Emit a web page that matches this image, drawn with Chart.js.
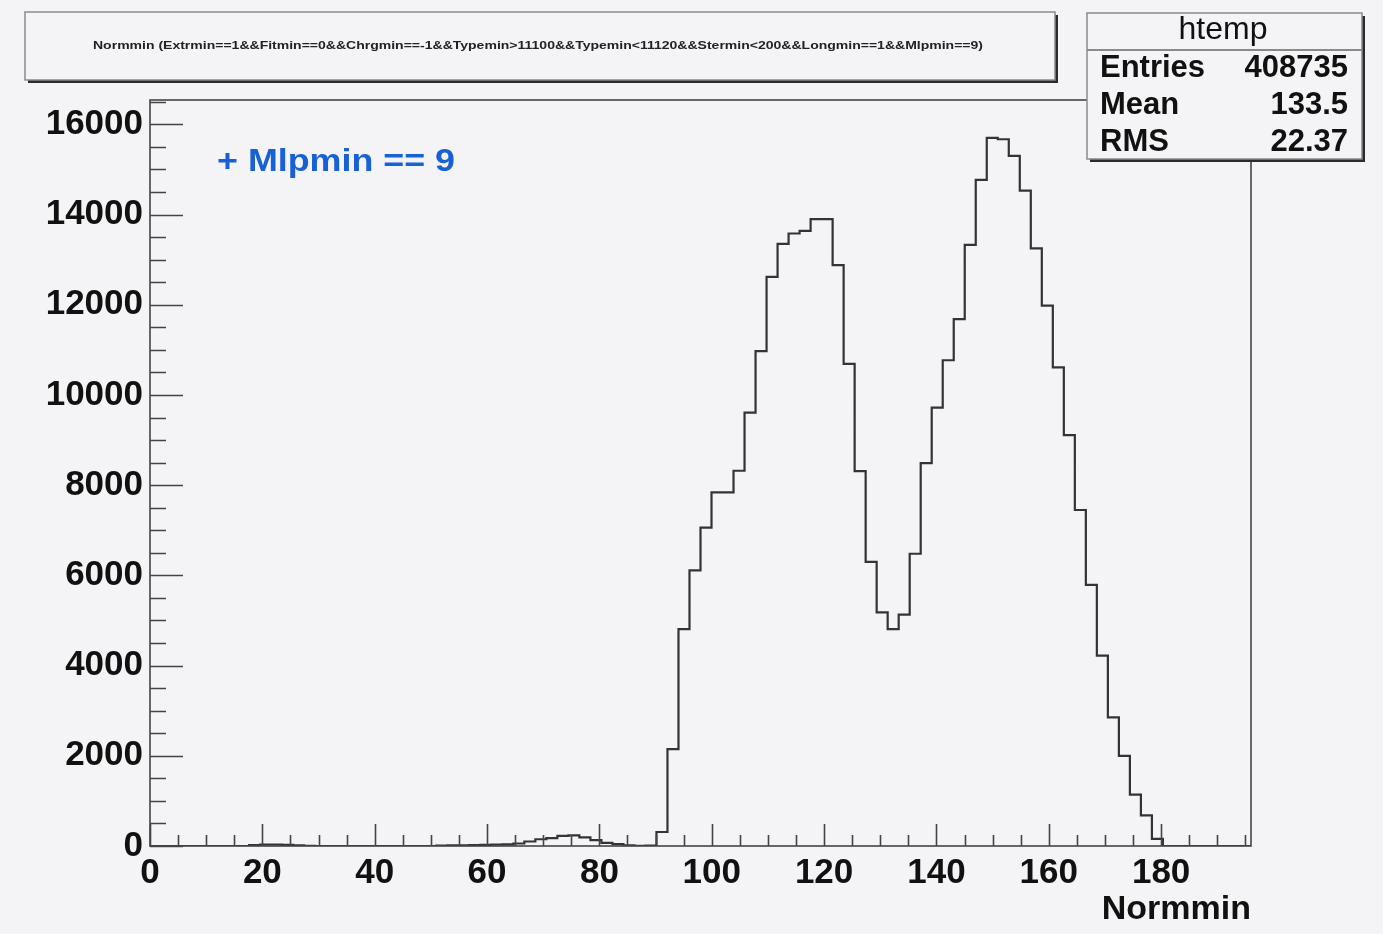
<!DOCTYPE html>
<html>
<head>
<meta charset="utf-8">
<script src="https://cdn.jsdelivr.net/npm/chart.js@4.4.1/dist/chart.umd.min.js"></script>
<style>
  html, body { margin: 0; padding: 0; background: #f4f4f6; }
  canvas { display: block; }
</style>
</head>
<body>
<canvas id="histo" width="1383" height="934"></canvas>
<script>
// histogram htemp : 100 bins from 0 to 196
const xMin = 0
const binWidth = 1.96
const counts = [
  0, 0, 0, 0, 0, 0, 0, 0, 0, 20,
  30, 30, 25, 15, 5, 0, 0, 0, 0, 0,
  0, 0, 0, 0, 0, 0, 10, 15, 15, 20,
  25, 30, 35, 55, 100, 150, 175, 225, 235, 190,
  130, 70, 40, 15, 5, 10, 310, 2150, 4810, 6110,
  7060, 7840, 7840, 8320, 9610, 10970, 12620, 13350, 13580, 13640,
  13900, 13900, 12880, 10690, 8310, 6300, 5180, 4810, 5130, 6480,
  8490, 9720, 10770, 11680, 13330, 14770, 15700, 15670, 15300, 14530,
  13250, 11980, 10610, 9110, 7450, 5790, 4220, 2850, 2000, 1140,
  680, 160, 0, 0, 0, 0, 0, 0, 0, 0
]
const xTicks = [0, 20, 40, 60, 80, 100, 120, 140, 160, 180]
const yTicks = [0, 2000, 4000, 6000, 8000, 10000, 12000, 14000, 16000]
const xMax = 196
const yMax = 16540

const titleText = 'Normmin (Extrmin==1&&Fitmin==0&&Chrgmin==-1&&Typemin>11100&&Typemin<11120&&Stermin<200&&Longmin==1&&Mlpmin==9)'
const statsName = 'htemp'
const statsLabels = ['Entries', 'Mean', 'RMS']
const statsValues = ['408735', '133.5', '22.37']
const noteText = '+ Mlpmin == 9'

// points du contour (marches) : bord gauche de chaque bin
const points = counts.map((c, i) => ({x: xMin + i * binWidth, y: c}))
points.push({x: xMin + counts.length * binWidth, y: counts[counts.length - 1]})

const FONT = '"Liberation Sans", Arial, sans-serif'

function shadowBox(ctx, x, y, w, h) {
  ctx.fillStyle = '#2b2b2b'
  ctx.fillRect(x + 3, y + 3, w, h)
  ctx.fillStyle = '#f4f4f6'
  ctx.fillRect(x, y, w, h)
  ctx.strokeStyle = '#8a8a8a'
  ctx.lineWidth = 1.5
  ctx.strokeRect(x, y, w, h)
}

function stretchText(ctx, text, x, y, width, font, color, align) {
  ctx.save()
  ctx.font = font
  ctx.fillStyle = color
  ctx.textBaseline = 'middle'
  ctx.textAlign = 'left'
  const w = ctx.measureText(text).width
  const sx = width / w
  let left = x
  if (align === 'center') left = x - width / 2
  ctx.translate(left, y)
  ctx.scale(sx, 1)
  ctx.fillText(text, 0, 0)
  ctx.restore()
}

const rootPlugin = {
  id: 'rootStyle',
  beforeDraw(chart) {
    const ctx = chart.ctx
    ctx.save()
    ctx.fillStyle = '#f4f4f6'
    ctx.fillRect(0, 0, chart.width, chart.height)
    ctx.restore()
  },
  afterDatasetsDraw(chart) {
    const ctx = chart.ctx
    const a = chart.chartArea
    const xs = chart.scales.x
    const ys = chart.scales.y
    ctx.save()
    ctx.strokeStyle = '#444'
    ctx.lineWidth = 1.6
    ctx.strokeRect(a.left, a.top, a.right - a.left, a.bottom - a.top)
    // graduations y
    ctx.beginPath()
    for (let v = 0; v <= yMax; v += 500) {
      const py = Math.round(ys.getPixelForValue(v)) + 0.5
      const len = v % 2000 === 0 ? 33 : 16
      ctx.moveTo(a.left, py)
      ctx.lineTo(a.left + len, py)
    }
    // graduations x
    for (let v = 0; v <= xMax; v += 5) {
      const px = Math.round(xs.getPixelForValue(v)) + 0.5
      const len = v % 20 === 0 ? 22 : 11
      ctx.moveTo(px, a.bottom)
      ctx.lineTo(px, a.bottom - len)
    }
    ctx.stroke()
    ctx.restore()
  },
  afterDraw(chart) {
    const ctx = chart.ctx
    // titre
    shadowBox(ctx, 25, 12, 1030, 68)
    stretchText(ctx, titleText, 538, 46, 890, 'bold 11px ' + FONT, '#222', 'center')
    // boite stats
    shadowBox(ctx, 1087, 13, 275, 146)
    ctx.save()
    ctx.strokeStyle = '#8a8a8a'
    ctx.lineWidth = 2
    ctx.beginPath()
    ctx.moveTo(1087, 50)
    ctx.lineTo(1362, 50)
    ctx.stroke()
    ctx.fillStyle = '#111'
    ctx.textBaseline = 'middle'
    ctx.textAlign = 'center'
    ctx.font = '32px ' + FONT
    ctx.fillText(statsName, 1223, 30)
    ctx.font = 'bold 31px ' + FONT
    const rowsY = [68, 105, 142]
    statsLabels.forEach((lab, i) => {
      ctx.textAlign = 'left'
      ctx.fillText(lab, 1100, rowsY[i])
      ctx.textAlign = 'right'
      ctx.fillText(statsValues[i], 1348, rowsY[i])
    })
    ctx.restore()
    // texte bleu
    stretchText(ctx, noteText, 217, 162, 238, 'bold 31px ' + FONT, '#1860d6', 'left')
  }
}

new Chart(document.getElementById('histo'), {
  type: 'line',
  data: {
    datasets: [{
      data: points,
      stepped: 'before',
      borderColor: '#333',
      borderWidth: 2.2,
      pointRadius: 0,
      fill: false
    }]
  },
  options: {
    responsive: false,
    animation: false,
    devicePixelRatio: 1,
    layout: {padding: {top: 100, right: 132, left: 0, bottom: 0}},
    plugins: {legend: {display: false}, tooltip: {enabled: false}},
    scales: {
      x: {
        type: 'linear',
        min: xMin,
        max: xMax,
        afterBuildTicks: s => { s.ticks = xTicks.map(v => ({value: v})) },
        afterFit: s => { s.height = 88 },
        grid: {display: false, drawTicks: false},
        border: {display: false},
        ticks: {
          padding: 6,
          maxRotation: 0,
          autoSkip: false,
          color: '#111',
          font: {family: FONT, size: 35, weight: 'bold'},
          callback: v => String(v)
        },
        title: {
          display: true,
          text: 'Normmin',
          align: 'end',
          color: '#111',
          font: {family: FONT, size: 34, weight: 'bold'},
          padding: {top: 0, bottom: 4}
        }
      },
      y: {
        type: 'linear',
        min: 0,
        max: yMax,
        afterBuildTicks: s => { s.ticks = yTicks.map(v => ({value: v})) },
        afterFit: s => { s.width = 150 },
        grid: {display: false, drawTicks: false},
        border: {display: false},
        ticks: {
          padding: 7,
          autoSkip: false,
          color: '#111',
          font: {family: FONT, size: 35, weight: 'bold'},
          callback: v => String(v)
        }
      }
    }
  },
  plugins: [rootPlugin]
})
</script>
</body>
</html>
